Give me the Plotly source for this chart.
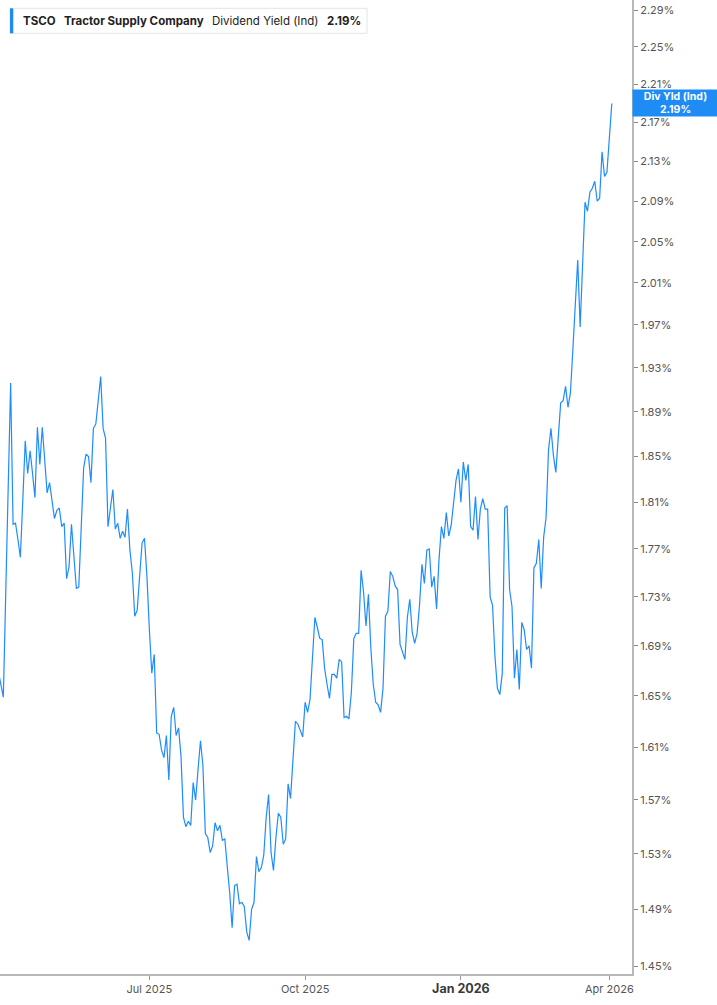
import math
import pandas as pd
import plotly.graph_objects as go

# ---------------- data ----------------
start_date = "2025-04-01"
end_date = "2026-04-02"
market_holidays = ["2025-04-18", "2025-05-26", "2025-06-19", "2025-07-04", "2025-09-01",
                   "2025-11-27", "2025-12-25", "2026-01-01", "2026-01-19", "2026-02-16"]

yields = [
    1.669, 1.658, 1.649, 1.734, 1.822, 1.916, 1.791, 1.792, 1.778, 1.763,
    1.812, 1.864, 1.835, 1.855, 1.835, 1.814, 1.876, 1.843, 1.876, 1.847,
    1.818, 1.827, 1.811, 1.796, 1.803, 1.805, 1.789, 1.792, 1.745, 1.755,
    1.791, 1.765, 1.737, 1.738, 1.789, 1.840, 1.852, 1.850, 1.827, 1.875,
    1.879, 1.901, 1.922, 1.875, 1.866, 1.789, 1.804, 1.821, 1.787, 1.792,
    1.779, 1.785, 1.780, 1.804, 1.769, 1.750, 1.714, 1.719, 1.747, 1.775,
    1.779, 1.747, 1.703, 1.668, 1.683, 1.621, 1.620, 1.608, 1.602, 1.619,
    1.585, 1.634, 1.641, 1.619, 1.625, 1.603, 1.557, 1.550, 1.554, 1.551,
    1.583, 1.570, 1.593, 1.615, 1.596, 1.545, 1.542, 1.531, 1.536, 1.553,
    1.547, 1.551, 1.540, 1.541, 1.521, 1.502, 1.477, 1.507, 1.508, 1.494,
    1.495, 1.492, 1.474, 1.468, 1.490, 1.495, 1.528, 1.517, 1.520, 1.529,
    1.557, 1.574, 1.531, 1.518, 1.542, 1.560, 1.557, 1.537, 1.541, 1.582,
    1.571, 1.600, 1.630, 1.628, 1.623, 1.618, 1.645, 1.637, 1.647, 1.680,
    1.713, 1.705, 1.696, 1.695, 1.672, 1.659, 1.648, 1.667, 1.667, 1.664,
    1.679, 1.677, 1.633, 1.634, 1.632, 1.653, 1.696, 1.700, 1.700, 1.752,
    1.734, 1.706, 1.732, 1.688, 1.659, 1.645, 1.643, 1.637, 1.656, 1.714,
    1.718, 1.751, 1.747, 1.739, 1.736, 1.691, 1.684, 1.679, 1.713, 1.728,
    1.701, 1.692, 1.700, 1.723, 1.757, 1.741, 1.769, 1.770, 1.738, 1.747,
    1.720, 1.761, 1.789, 1.779, 1.801, 1.781, 1.790, 1.812, 1.829, 1.839,
    1.810, 1.845, 1.829, 1.843, 1.789, 1.786, 1.815, 1.778, 1.804, 1.813,
    1.804, 1.804, 1.730, 1.723, 1.681, 1.656, 1.651, 1.668, 1.805, 1.807,
    1.736, 1.722, 1.664, 1.687, 1.655, 1.709, 1.703, 1.687, 1.690, 1.672,
    1.754, 1.758, 1.778, 1.737, 1.780, 1.797, 1.856, 1.875, 1.851, 1.836,
    1.869, 1.898, 1.900, 1.913, 1.894, 1.907, 1.947, 1.989, 2.032, 1.968,
    2.034, 2.089, 2.080, 2.099, 2.103, 2.110, 2.090, 2.093, 2.140, 2.115,
    2.119, 2.154, 2.190,
]

x_tick_dates = ["2025-07-01", "2025-10-01", "2026-01-02", "2026-04-01"]
x_tick_labels = ["Jul 2025", "Oct 2025",
                 '<span style="font-size:12.5px;color:#3a3a3a"><b>Jan 2026</b></span>',
                 "Apr 2026"]
y_ticks = [1.45, 1.49, 1.53, 1.57, 1.61, 1.65, 1.69, 1.73, 1.77, 1.81, 1.85,
           1.89, 1.93, 1.97, 2.01, 2.05, 2.09, 2.13, 2.17, 2.21, 2.25, 2.29]

ticker = "TSCO"
company = "Tractor Supply Company"
metric = "Dividend Yield (Ind)"
short_metric = "Div Yld (Ind)"

# ---------------- build ----------------
dates = pd.bdate_range(start_date, end_date, freq="C",
                       holidays=market_holidays).strftime("%Y-%m-%d").tolist()
n = min(len(dates), len(yields))
dates = dates[:n]
vals = yields[:n]
last_val = vals[-1]

W, H = 717, 1005
ML, MR, MT, MB = 0, 85, 0, 31
PW, PH = W - ML - MR, H - MT - MB


def px(x):
    return x / PW


def py(y):
    return 1 - y / PH


LINE = "#1e8cff"
BOX = "#1f8cf6"
FONT = "Inter"

fig = go.Figure()
fig.add_trace(go.Scatter(x=dates, y=vals, mode="lines",
                         line=dict(color=LINE, width=1.2), hoverinfo="skip"))

fig.update_layout(
    width=W, height=H,
    margin=dict(l=ML, r=MR, t=MT, b=MB),
    paper_bgcolor="white", plot_bgcolor="white",
    showlegend=False,
    font=dict(family=FONT, size=11, color="#555"),
    xaxis=dict(
        type="category", range=[0.63, 260.3],
        tickmode="array", tickvals=x_tick_dates, ticktext=x_tick_labels,
        ticks="outside", ticklen=4, tickcolor="#999", tickwidth=1,
        showline=True, linecolor="#b8b8b8", linewidth=2,
        showgrid=False, zeroline=False,
        tickfont=dict(family=FONT, size=11, color="#555"),
    ),
    yaxis=dict(
        type="log", side="right", range=[0.15976, 0.36191],
        tickmode="array", tickvals=y_ticks,
        ticktext=[f"{v:.2f}%" for v in y_ticks],
        ticks="outside", ticklen=4, tickcolor="#888", tickwidth=1,
        showline=True, linecolor="#b8b8b8", linewidth=2,
        showgrid=False, zeroline=False,
        tickfont=dict(family=FONT, size=11, color="#555"),
    ),
)

# header box
fig.add_shape(type="rect", xref="paper", yref="paper",
              x0=px(10), x1=px(367), y0=py(33.3), y1=py(8.3),
              line=dict(color="#e4e4e4", width=1), fillcolor="white", layer="above")
fig.add_shape(type="rect", xref="paper", yref="paper",
              x0=px(10), x1=px(13.3), y0=py(33.3), y1=py(8.3),
              line=dict(width=0), fillcolor=BOX, layer="above")

header_parts = [
    (20.7, f"<b>{ticker}</b>"),
    (61.7, f"<b>{company}</b>"),
    (210, metric),
    (325, f"<b>{last_val:.2f}%</b>"),
]
for xpos, txt in header_parts:
    fig.add_annotation(xref="paper", yref="paper", x=px(xpos), y=py(20.8),
                       xanchor="left", yanchor="middle", text=txt, showarrow=False,
                       font=dict(family=FONT, size=11.5, color="#222"))

# last value tag on the axis
fig.add_annotation(xref="paper", yref="y", x=1.0, y=math.log10(last_val),
                   xanchor="left", yanchor="middle",
                   text=f"<b>{short_metric}</b><br><b>{last_val:.2f}%</b>",
                   showarrow=False, align="center", bgcolor=BOX,
                   width=85, height=26, borderpad=0,
                   font=dict(family=FONT, size=10.5, color="white"))

fig.write_html("out.html",
               config={"displayModeBar": False, "staticPlot": True},
               post_script="document.body.style.margin='0';document.body.style.overflow='hidden';")
